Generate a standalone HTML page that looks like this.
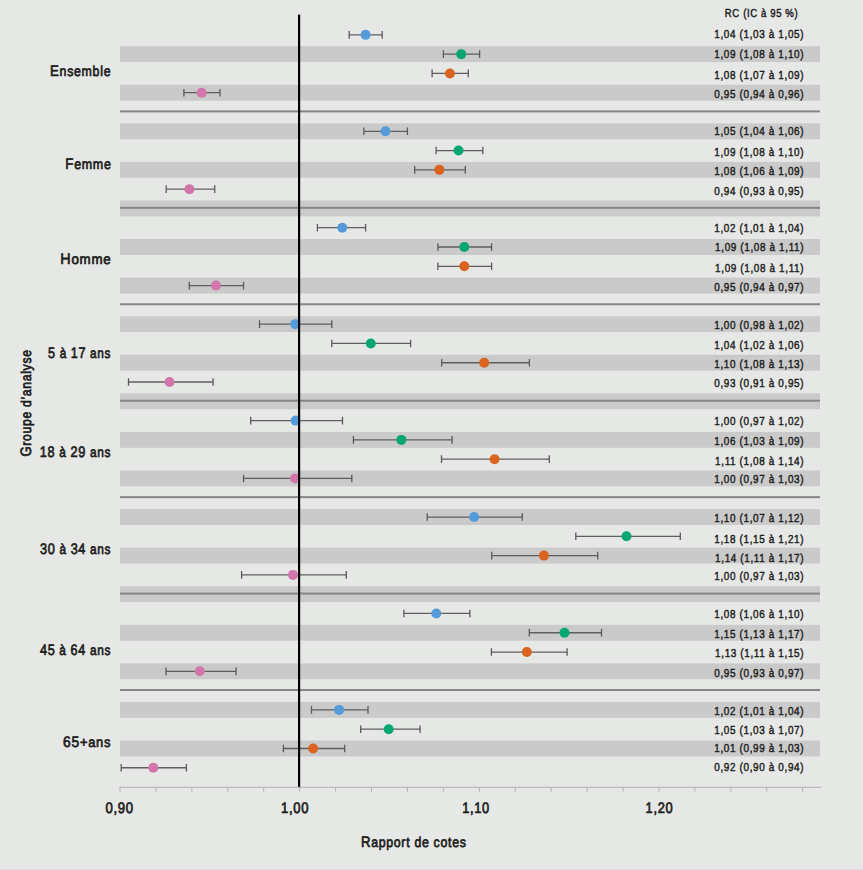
<!DOCTYPE html><html><head><meta charset="utf-8"><style>html,body{margin:0;padding:0;background:#e6e8e6;width:863px;height:870px;overflow:hidden}svg{display:block}text{font-family:"Liberation Sans",sans-serif;fill:#1d1d1b;text-rendering:geometricPrecision}.l{font-weight:normal;stroke:#1d1d1b;stroke-width:0.7px;letter-spacing:0.8px}.v{font-weight:normal;stroke:#1d1d1b;stroke-width:0.45px;letter-spacing:0.75px}</style></head><body>
<svg width="863" height="870" viewBox="0 0 863 870">
<rect width="863" height="870" fill="#e6e8e6"/>
<rect x="120" y="46.18" width="700" height="15.9" fill="#cacaca"/>
<rect x="120" y="84.75" width="700" height="15.9" fill="#cacaca"/>
<rect x="120" y="123.33" width="700" height="15.9" fill="#cacaca"/>
<rect x="120" y="161.9" width="700" height="15.9" fill="#cacaca"/>
<rect x="120" y="200.48" width="700" height="15.9" fill="#cacaca"/>
<rect x="120" y="239.05" width="700" height="15.9" fill="#cacaca"/>
<rect x="120" y="277.63" width="700" height="15.9" fill="#cacaca"/>
<rect x="120" y="316.2" width="700" height="15.9" fill="#cacaca"/>
<rect x="120" y="354.78" width="700" height="15.9" fill="#cacaca"/>
<rect x="120" y="393.35" width="700" height="15.9" fill="#cacaca"/>
<rect x="120" y="431.93" width="700" height="15.9" fill="#cacaca"/>
<rect x="120" y="470.5" width="700" height="15.9" fill="#cacaca"/>
<rect x="120" y="509.08" width="700" height="15.9" fill="#cacaca"/>
<rect x="120" y="547.65" width="700" height="15.9" fill="#cacaca"/>
<rect x="120" y="586.23" width="700" height="15.9" fill="#cacaca"/>
<rect x="120" y="624.8" width="700" height="15.9" fill="#cacaca"/>
<rect x="120" y="663.38" width="700" height="15.9" fill="#cacaca"/>
<rect x="120" y="701.95" width="700" height="15.9" fill="#cacaca"/>
<rect x="120" y="740.53" width="700" height="15.9" fill="#cacaca"/>
<rect x="120" y="110.39" width="700" height="2" fill="#858585"/>
<rect x="120" y="206.83" width="700" height="2" fill="#858585"/>
<rect x="120" y="303.26" width="700" height="2" fill="#858585"/>
<rect x="120" y="399.7" width="700" height="2" fill="#858585"/>
<rect x="120" y="496.14" width="700" height="2" fill="#858585"/>
<rect x="120" y="592.58" width="700" height="2" fill="#858585"/>
<rect x="120" y="689.02" width="700" height="2" fill="#858585"/>
<path d="M349.2 34.84H382.2" stroke="#5e5e5e" stroke-width="1.3" fill="none"/>
<path d="M349.2 31.04v7.6M382.2 31.04v7.6" stroke="#5a5a5a" stroke-width="1.3" fill="none"/>
<circle cx="365.6" cy="34.84" r="5" fill="#559bd9"/>
<path d="M443.4 54.13H479.6" stroke="#5e5e5e" stroke-width="1.3" fill="none"/>
<path d="M443.4 50.33v7.6M479.6 50.33v7.6" stroke="#5a5a5a" stroke-width="1.3" fill="none"/>
<circle cx="461.2" cy="54.13" r="5" fill="#08a670"/>
<path d="M432.1 73.42H468.3" stroke="#5e5e5e" stroke-width="1.3" fill="none"/>
<path d="M432.1 69.62v7.6M468.3 69.62v7.6" stroke="#5a5a5a" stroke-width="1.3" fill="none"/>
<circle cx="449.9" cy="73.42" r="5" fill="#da631f"/>
<path d="M183.9 92.7H220" stroke="#5e5e5e" stroke-width="1.3" fill="none"/>
<path d="M183.9 88.9v7.6M220 88.9v7.6" stroke="#5a5a5a" stroke-width="1.3" fill="none"/>
<circle cx="201.7" cy="92.7" r="5" fill="#d175ab"/>
<path d="M363.9 131.28H407.4" stroke="#5e5e5e" stroke-width="1.3" fill="none"/>
<path d="M363.9 127.48v7.6M407.4 127.48v7.6" stroke="#5a5a5a" stroke-width="1.3" fill="none"/>
<circle cx="385.5" cy="131.28" r="5" fill="#559bd9"/>
<path d="M436.1 150.56H482.8" stroke="#5e5e5e" stroke-width="1.3" fill="none"/>
<path d="M436.1 146.76v7.6M482.8 146.76v7.6" stroke="#5a5a5a" stroke-width="1.3" fill="none"/>
<circle cx="458.5" cy="150.56" r="5" fill="#08a670"/>
<path d="M414.7 169.85H465.3" stroke="#5e5e5e" stroke-width="1.3" fill="none"/>
<path d="M414.7 166.05v7.6M465.3 166.05v7.6" stroke="#5a5a5a" stroke-width="1.3" fill="none"/>
<circle cx="439.4" cy="169.85" r="5" fill="#da631f"/>
<path d="M166.2 189.14H214.7" stroke="#5e5e5e" stroke-width="1.3" fill="none"/>
<path d="M166.2 185.34v7.6M214.7 185.34v7.6" stroke="#5a5a5a" stroke-width="1.3" fill="none"/>
<circle cx="189.4" cy="189.14" r="5" fill="#d175ab"/>
<path d="M317.4 227.72H365.6" stroke="#5e5e5e" stroke-width="1.3" fill="none"/>
<path d="M317.4 223.91v7.6M365.6 223.91v7.6" stroke="#5a5a5a" stroke-width="1.3" fill="none"/>
<circle cx="342.3" cy="227.72" r="5" fill="#559bd9"/>
<path d="M437.9 247H491.6" stroke="#5e5e5e" stroke-width="1.3" fill="none"/>
<path d="M437.9 243.2v7.6M491.6 243.2v7.6" stroke="#5a5a5a" stroke-width="1.3" fill="none"/>
<circle cx="464.3" cy="247" r="5" fill="#08a670"/>
<path d="M437.9 266.29H491.6" stroke="#5e5e5e" stroke-width="1.3" fill="none"/>
<path d="M437.9 262.49v7.6M491.6 262.49v7.6" stroke="#5a5a5a" stroke-width="1.3" fill="none"/>
<circle cx="464.3" cy="266.29" r="5" fill="#da631f"/>
<path d="M189.3 285.58H243.5" stroke="#5e5e5e" stroke-width="1.3" fill="none"/>
<path d="M189.3 281.78v7.6M243.5 281.78v7.6" stroke="#5a5a5a" stroke-width="1.3" fill="none"/>
<circle cx="216" cy="285.58" r="5" fill="#d175ab"/>
<path d="M259.5 324.15H331.8" stroke="#5e5e5e" stroke-width="1.3" fill="none"/>
<path d="M259.5 320.35v7.6M331.8 320.35v7.6" stroke="#5a5a5a" stroke-width="1.3" fill="none"/>
<circle cx="295.3" cy="324.15" r="5" fill="#559bd9"/>
<path d="M331.8 343.44H410.6" stroke="#5e5e5e" stroke-width="1.3" fill="none"/>
<path d="M331.8 339.64v7.6M410.6 339.64v7.6" stroke="#5a5a5a" stroke-width="1.3" fill="none"/>
<circle cx="370.8" cy="343.44" r="5" fill="#08a670"/>
<path d="M441.7 362.73H529.4" stroke="#5e5e5e" stroke-width="1.3" fill="none"/>
<path d="M441.7 358.93v7.6M529.4 358.93v7.6" stroke="#5a5a5a" stroke-width="1.3" fill="none"/>
<circle cx="484.2" cy="362.73" r="5" fill="#da631f"/>
<path d="M128.5 382.01H213.1" stroke="#5e5e5e" stroke-width="1.3" fill="none"/>
<path d="M128.5 378.21v7.6M213.1 378.21v7.6" stroke="#5a5a5a" stroke-width="1.3" fill="none"/>
<circle cx="169.5" cy="382.01" r="5" fill="#d175ab"/>
<path d="M250.7 420.59H342.5" stroke="#5e5e5e" stroke-width="1.3" fill="none"/>
<path d="M250.7 416.79v7.6M342.5 416.79v7.6" stroke="#5a5a5a" stroke-width="1.3" fill="none"/>
<circle cx="295.6" cy="420.59" r="5" fill="#559bd9"/>
<path d="M353.4 439.88H452.1" stroke="#5e5e5e" stroke-width="1.3" fill="none"/>
<path d="M353.4 436.08v7.6M452.1 436.08v7.6" stroke="#5a5a5a" stroke-width="1.3" fill="none"/>
<circle cx="401.4" cy="439.88" r="5" fill="#08a670"/>
<path d="M441.5 459.17H549.3" stroke="#5e5e5e" stroke-width="1.3" fill="none"/>
<path d="M441.5 455.37v7.6M549.3 455.37v7.6" stroke="#5a5a5a" stroke-width="1.3" fill="none"/>
<circle cx="494.6" cy="459.17" r="5" fill="#da631f"/>
<path d="M243.6 478.45H351.8" stroke="#5e5e5e" stroke-width="1.3" fill="none"/>
<path d="M243.6 474.65v7.6M351.8 474.65v7.6" stroke="#5a5a5a" stroke-width="1.3" fill="none"/>
<circle cx="295.1" cy="478.45" r="5" fill="#d175ab"/>
<path d="M427.2 517.03H522.3" stroke="#5e5e5e" stroke-width="1.3" fill="none"/>
<path d="M427.2 513.23v7.6M522.3 513.23v7.6" stroke="#5a5a5a" stroke-width="1.3" fill="none"/>
<circle cx="474.1" cy="517.03" r="5" fill="#559bd9"/>
<path d="M575.8 536.32H680.3" stroke="#5e5e5e" stroke-width="1.3" fill="none"/>
<path d="M575.8 532.52v7.6M680.3 532.52v7.6" stroke="#5a5a5a" stroke-width="1.3" fill="none"/>
<circle cx="626.5" cy="536.32" r="5" fill="#08a670"/>
<path d="M491.7 555.6H597.7" stroke="#5e5e5e" stroke-width="1.3" fill="none"/>
<path d="M491.7 551.8v7.6M597.7 551.8v7.6" stroke="#5a5a5a" stroke-width="1.3" fill="none"/>
<circle cx="543.9" cy="555.6" r="5" fill="#da631f"/>
<path d="M241.6 574.89H346.3" stroke="#5e5e5e" stroke-width="1.3" fill="none"/>
<path d="M241.6 571.09v7.6M346.3 571.09v7.6" stroke="#5a5a5a" stroke-width="1.3" fill="none"/>
<circle cx="293" cy="574.89" r="5" fill="#d175ab"/>
<path d="M403.9 613.47H469.9" stroke="#5e5e5e" stroke-width="1.3" fill="none"/>
<path d="M403.9 609.67v7.6M469.9 609.67v7.6" stroke="#5a5a5a" stroke-width="1.3" fill="none"/>
<circle cx="436.3" cy="613.47" r="5" fill="#559bd9"/>
<path d="M529.3 632.75H601.5" stroke="#5e5e5e" stroke-width="1.3" fill="none"/>
<path d="M529.3 628.95v7.6M601.5 628.95v7.6" stroke="#5a5a5a" stroke-width="1.3" fill="none"/>
<circle cx="564.5" cy="632.75" r="5" fill="#08a670"/>
<path d="M491.4 652.04H567.1" stroke="#5e5e5e" stroke-width="1.3" fill="none"/>
<path d="M491.4 648.24v7.6M567.1 648.24v7.6" stroke="#5a5a5a" stroke-width="1.3" fill="none"/>
<circle cx="526.8" cy="652.04" r="5" fill="#da631f"/>
<path d="M166 671.33H236.1" stroke="#5e5e5e" stroke-width="1.3" fill="none"/>
<path d="M166 667.53v7.6M236.1 667.53v7.6" stroke="#5a5a5a" stroke-width="1.3" fill="none"/>
<circle cx="199.8" cy="671.33" r="5" fill="#d175ab"/>
<path d="M311.5 709.9H368" stroke="#5e5e5e" stroke-width="1.3" fill="none"/>
<path d="M311.5 706.1v7.6M368 706.1v7.6" stroke="#5a5a5a" stroke-width="1.3" fill="none"/>
<circle cx="339.1" cy="709.9" r="5" fill="#559bd9"/>
<path d="M360.7 729.19H420.1" stroke="#5e5e5e" stroke-width="1.3" fill="none"/>
<path d="M360.7 725.39v7.6M420.1 725.39v7.6" stroke="#5a5a5a" stroke-width="1.3" fill="none"/>
<circle cx="388.7" cy="729.19" r="5" fill="#08a670"/>
<path d="M283.4 748.48H344.7" stroke="#5e5e5e" stroke-width="1.3" fill="none"/>
<path d="M283.4 744.68v7.6M344.7 744.68v7.6" stroke="#5a5a5a" stroke-width="1.3" fill="none"/>
<circle cx="313.1" cy="748.48" r="5" fill="#da631f"/>
<path d="M121.2 767.77H186.4" stroke="#5e5e5e" stroke-width="1.3" fill="none"/>
<path d="M121.2 763.97v7.6M186.4 763.97v7.6" stroke="#5a5a5a" stroke-width="1.3" fill="none"/>
<circle cx="153.3" cy="767.77" r="5" fill="#d175ab"/>
<rect x="298" y="14.6" width="2.2" height="772.7" fill="#000"/>
<rect x="119.5" y="786.75" width="701.5" height="1.1" fill="#b4b4b4"/>
<rect x="119.5" y="787.3" width="1" height="4.3" fill="#b0b0b0"/>
<rect x="155.43" y="787.3" width="1" height="4.3" fill="#b0b0b0"/>
<rect x="191.36" y="787.3" width="1" height="4.3" fill="#b0b0b0"/>
<rect x="227.29" y="787.3" width="1" height="4.3" fill="#b0b0b0"/>
<rect x="263.22" y="787.3" width="1" height="4.3" fill="#b0b0b0"/>
<rect x="299.15" y="787.3" width="1" height="4.3" fill="#b0b0b0"/>
<rect x="335.08" y="787.3" width="1" height="4.3" fill="#b0b0b0"/>
<rect x="371.01" y="787.3" width="1" height="4.3" fill="#b0b0b0"/>
<rect x="406.94" y="787.3" width="1" height="4.3" fill="#b0b0b0"/>
<rect x="442.87" y="787.3" width="1" height="4.3" fill="#b0b0b0"/>
<rect x="478.8" y="787.3" width="1" height="4.3" fill="#b0b0b0"/>
<rect x="514.73" y="787.3" width="1" height="4.3" fill="#b0b0b0"/>
<rect x="550.66" y="787.3" width="1" height="4.3" fill="#b0b0b0"/>
<rect x="586.59" y="787.3" width="1" height="4.3" fill="#b0b0b0"/>
<rect x="622.52" y="787.3" width="1" height="4.3" fill="#b0b0b0"/>
<rect x="658.45" y="787.3" width="1" height="4.3" fill="#b0b0b0"/>
<rect x="694.38" y="787.3" width="1" height="4.3" fill="#b0b0b0"/>
<rect x="730.31" y="787.3" width="1" height="4.3" fill="#b0b0b0"/>
<rect x="766.24" y="787.3" width="1" height="4.3" fill="#b0b0b0"/>
<rect x="802.17" y="787.3" width="1" height="4.3" fill="#b0b0b0"/>
<text class="l" transform="translate(50.01 75.9) scale(0.8724 1)" font-size="14.2"><tspan font-size="15.2">E</tspan>nsemble</text>
<text class="l" transform="translate(65.31 169.4) scale(0.8777 1)" font-size="14.2"><tspan font-size="15.2">F</tspan>emme</text>
<text class="l" transform="translate(60.35 264) scale(0.9408 1)" font-size="14.2"><tspan font-size="15.2">H</tspan>omme</text>
<text class="l" transform="translate(48.03 358.3) scale(0.8302 1)" font-size="14.2"><tspan font-size="15.2">5</tspan> à <tspan font-size="15.2">17</tspan> ans</text>
<text class="l" transform="translate(39.73 456.9) scale(0.8381 1)" font-size="14.2"><tspan font-size="15.2">18</tspan> à <tspan font-size="15.2">29</tspan> ans</text>
<text class="l" transform="translate(40.03 554) scale(0.8345 1)" font-size="14.2"><tspan font-size="15.2">30</tspan> à <tspan font-size="15.2">34</tspan> ans</text>
<text class="l" transform="translate(39.9 655.2) scale(0.8361 1)" font-size="14.2"><tspan font-size="15.2">45</tspan> à <tspan font-size="15.2">64</tspan> ans</text>
<text class="l" transform="translate(63.04 747.3) scale(0.9107 1)" font-size="14.2"><tspan font-size="15.2">65</tspan>+ans</text>
<text class="l" transform="translate(360.92 846.7) scale(0.8688 1)" font-size="14.2"><tspan font-size="15.2">R</tspan>apport de cotes</text>
<text class="l" transform="translate(105.54 812.5) scale(0.8631 1)" font-size="14.2"><tspan font-size="15.2">0,90</tspan></text>
<text class="l" transform="translate(281.12 812.5) scale(0.8544 1)" font-size="14.2"><tspan font-size="15.2">1,00</tspan></text>
<text class="l" transform="translate(462.23 812.5) scale(0.8414 1)" font-size="14.2"><tspan font-size="15.2">1,10</tspan></text>
<text class="l" transform="translate(645.62 812.5) scale(0.8447 1)" font-size="14.2"><tspan font-size="15.2">1,20</tspan></text>
<text class="v" transform="translate(724.82 16.5) scale(0.8243 1)" font-size="11.6">RC (IC à 95 %)</text>
<text class="v" transform="translate(714.3 37.8) scale(0.8555 1)" font-size="11.6">1,04 (1,03 à 1,05)</text>
<text class="v" transform="translate(714.3 57.8) scale(0.8555 1)" font-size="11.6">1,09 (1,08 à 1,10)</text>
<text class="v" transform="translate(714.3 78.5) scale(0.8555 1)" font-size="11.6">1,08 (1,07 à 1,09)</text>
<text class="v" transform="translate(714.3 98.4) scale(0.8555 1)" font-size="11.6">0,95 (0,94 à 0,96)</text>
<text class="v" transform="translate(714.3 134.6) scale(0.8555 1)" font-size="11.6">1,05 (1,04 à 1,06)</text>
<text class="v" transform="translate(714.3 155.8) scale(0.8555 1)" font-size="11.6">1,09 (1,08 à 1,10)</text>
<text class="v" transform="translate(714.3 174.6) scale(0.8555 1)" font-size="11.6">1,08 (1,06 à 1,09)</text>
<text class="v" transform="translate(714.3 194.9) scale(0.8555 1)" font-size="11.6">0,94 (0,93 à 0,95)</text>
<text class="v" transform="translate(714.3 231.7) scale(0.8555 1)" font-size="11.6">1,02 (1,01 à 1,04)</text>
<text class="v" transform="translate(715.07 251.2) scale(0.8555 1)" font-size="11.6">1,09 (1,08 à 1,11)</text>
<text class="v" transform="translate(715.07 271.9) scale(0.8555 1)" font-size="11.6">1,09 (1,08 à 1,11)</text>
<text class="v" transform="translate(714.3 290.9) scale(0.8555 1)" font-size="11.6">0,95 (0,94 à 0,97)</text>
<text class="v" transform="translate(714.3 328.6) scale(0.8555 1)" font-size="11.6">1,00 (0,98 à 1,02)</text>
<text class="v" transform="translate(714.3 349) scale(0.8555 1)" font-size="11.6">1,04 (1,02 à 1,06)</text>
<text class="v" transform="translate(714.3 368.1) scale(0.8555 1)" font-size="11.6">1,10 (1,08 à 1,13)</text>
<text class="v" transform="translate(714.3 386.9) scale(0.8555 1)" font-size="11.6">0,93 (0,91 à 0,95)</text>
<text class="v" transform="translate(714.3 424.8) scale(0.8555 1)" font-size="11.6">1,00 (0,97 à 1,02)</text>
<text class="v" transform="translate(714.3 444.9) scale(0.8555 1)" font-size="11.6">1,06 (1,03 à 1,09)</text>
<text class="v" transform="translate(715.07 464.5) scale(0.8555 1)" font-size="11.6">1,11 (1,08 à 1,14)</text>
<text class="v" transform="translate(714.3 483.4) scale(0.8555 1)" font-size="11.6">1,00 (0,97 à 1,03)</text>
<text class="v" transform="translate(714.3 521.7) scale(0.8555 1)" font-size="11.6">1,10 (1,07 à 1,12)</text>
<text class="v" transform="translate(714.3 542.6) scale(0.8555 1)" font-size="11.6">1,18 (1,15 à 1,21)</text>
<text class="v" transform="translate(715.07 561.6) scale(0.8555 1)" font-size="11.6">1,14 (1,11 à 1,17)</text>
<text class="v" transform="translate(714.3 580) scale(0.8555 1)" font-size="11.6">1,00 (0,97 à 1,03)</text>
<text class="v" transform="translate(714.3 617.9) scale(0.8555 1)" font-size="11.6">1,08 (1,06 à 1,10)</text>
<text class="v" transform="translate(714.3 637.8) scale(0.8555 1)" font-size="11.6">1,15 (1,13 à 1,17)</text>
<text class="v" transform="translate(715.07 657) scale(0.8555 1)" font-size="11.6">1,13 (1,11 à 1,15)</text>
<text class="v" transform="translate(714.3 676.5) scale(0.8555 1)" font-size="11.6">0,95 (0,93 à 0,97)</text>
<text class="v" transform="translate(714.3 715.2) scale(0.8555 1)" font-size="11.6">1,02 (1,01 à 1,04)</text>
<text class="v" transform="translate(714.3 733.8) scale(0.8555 1)" font-size="11.6">1,05 (1,03 à 1,07)</text>
<text class="v" transform="translate(714.3 752.2) scale(0.8555 1)" font-size="11.6">1,01 (0,99 à 1,03)</text>
<text class="v" transform="translate(714.3 770.8) scale(0.8555 1)" font-size="11.6">0,92 (0,90 à 0,94)</text>
<text class="l" transform="translate(30.7 456.54) rotate(-90) scale(0.8589 1)" font-size="14.2"><tspan font-size="15.2">G</tspan>roupe d’analyse</text>
<rect x="0" y="869" width="863" height="1" fill="#dcdddc"/>
</svg></body></html>
